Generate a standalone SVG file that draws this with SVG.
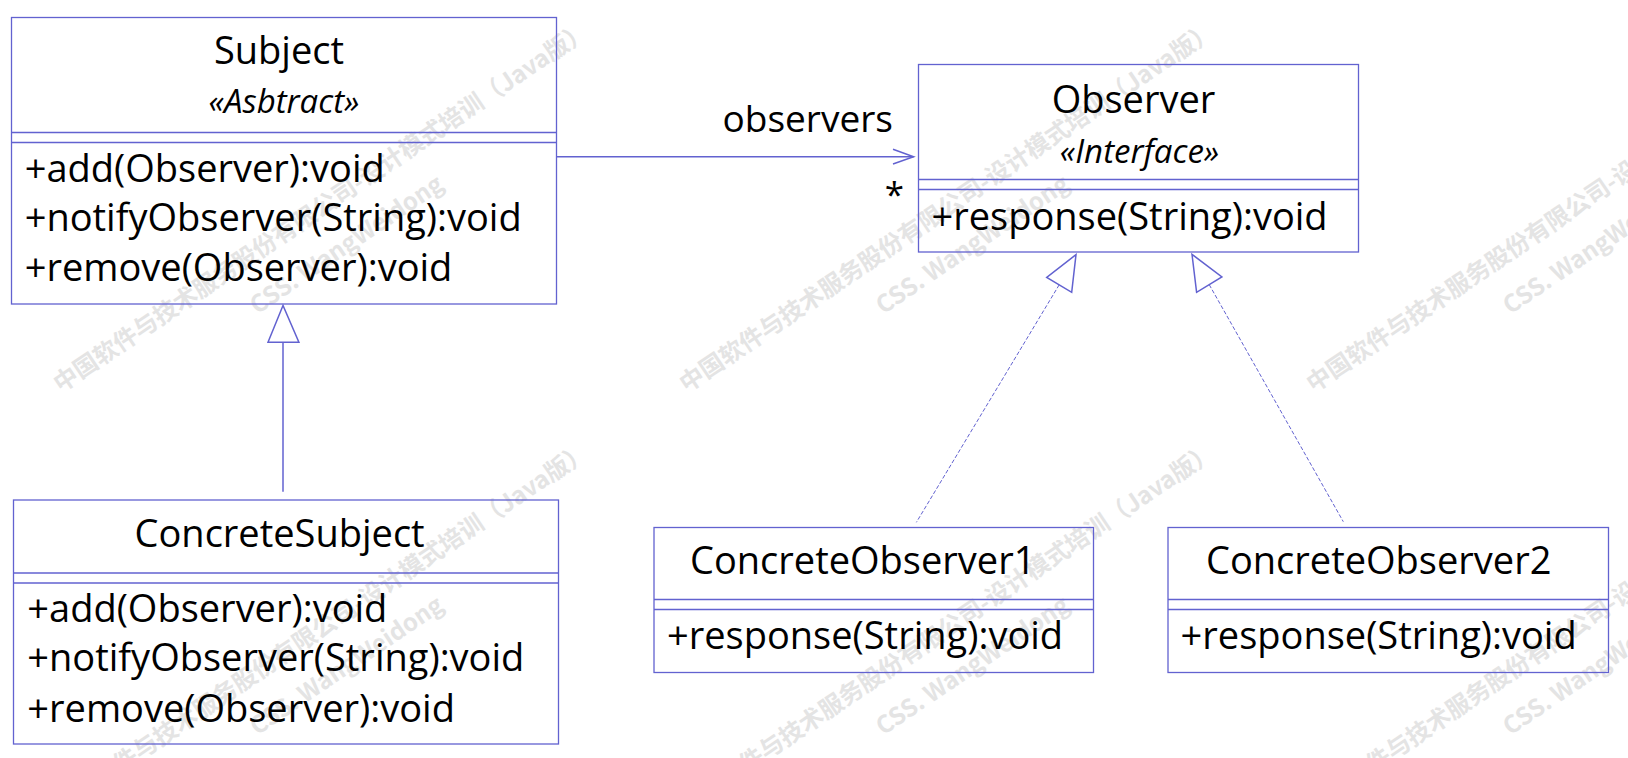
<svg xmlns="http://www.w3.org/2000/svg" width="1628" height="758" viewBox="0 0 1628 758">
<style>
.box{fill:none;stroke:#6262d0;stroke-width:1.3}
.div{stroke:#6262d0;stroke-width:1.3}
.t{font-family:"Open Sans","Noto Sans",sans-serif;font-size:38px;fill:#000}
.c{text-anchor:middle}
.st{font-family:"Open Sans","Noto Sans",sans-serif;font-size:33px;font-style:italic;text-anchor:middle;fill:#000}
.wm{font-family:"Noto Sans CJK SC","Noto Sans",sans-serif;font-weight:bold;font-size:24px;fill:#e4e4e4;text-anchor:middle}
.ln{fill:none;stroke:#6262d0;stroke-width:1.5}
.tri{fill:#fff;stroke:#6262d0;stroke-width:1.5}
.dash{fill:none;stroke:#6262d0;stroke-width:1;stroke-dasharray:4 2}
</style>
<defs>
<g id="wmt">
<text class="wm" x="0" y="0">中国软件与技术服务股份有限公司-设计模式培训（Java版）</text>
<text class="wm" x="0" y="45">CSS. WangWeidong</text>
</g>
</defs>
<g id="watermark">
<use href="#wmt" transform="translate(326 214) rotate(-34)"/>
<use href="#wmt" transform="translate(952 214) rotate(-34)"/>
<use href="#wmt" transform="translate(1579 214) rotate(-34)"/>
<use href="#wmt" transform="translate(326 635) rotate(-34)"/>
<use href="#wmt" transform="translate(952 635) rotate(-34)"/>
<use href="#wmt" transform="translate(1579 635) rotate(-34)"/>
</g>
<g id="subject">
<rect class="box" x="11.5" y="17.5" width="545" height="286.5"/>
<line class="div" x1="11.5" y1="132.5" x2="556.5" y2="132.5"/>
<line class="div" x1="11.5" y1="142.5" x2="556.5" y2="142.5"/>
<text class="t c" x="279" y="64">Subject</text>
<text class="st" x="284" y="113">«Asbtract»</text>
<text class="t" x="24.7" y="181.7">+add(Observer):void</text>
<text class="t" x="24.7" y="231">+notifyObserver(String):void</text>
<text class="t" x="24.7" y="281">+remove(Observer):void</text>
</g>
<g id="observer">
<rect class="box" x="918.5" y="64.5" width="440" height="187.5"/>
<line class="div" x1="918.5" y1="179.5" x2="1358.5" y2="179.5"/>
<line class="div" x1="918.5" y1="189.5" x2="1358.5" y2="189.5"/>
<text class="t c" x="1133.5" y="113.3">Observer</text>
<text class="st" x="1139.5" y="162.7">«Interface»</text>
<text class="t" x="931.5" y="230">+response(String):void</text>
</g>
<g id="concreteSubject">
<rect class="box" x="13.5" y="500" width="545" height="244"/>
<line class="div" x1="13.5" y1="573" x2="558.5" y2="573"/>
<line class="div" x1="13.5" y1="583" x2="558.5" y2="583"/>
<text class="t c" x="279.6" y="547.3">ConcreteSubject</text>
<text class="t" x="27.3" y="621.7">+add(Observer):void</text>
<text class="t" x="27.3" y="671">+notifyObserver(String):void</text>
<text class="t" x="27.3" y="721.7">+remove(Observer):void</text>
</g>
<g id="concreteObserver1">
<rect class="box" x="654" y="527.5" width="439.5" height="145"/>
<line class="div" x1="654" y1="599.5" x2="1093.5" y2="599.5"/>
<line class="div" x1="654" y1="609.5" x2="1093.5" y2="609.5"/>
<text class="t c" x="862.7" y="574.3">ConcreteObserver1</text>
<text class="t" x="667" y="649.3">+response(String):void</text>
</g>
<g id="concreteObserver2">
<rect class="box" x="1168" y="527.5" width="440.5" height="145"/>
<line class="div" x1="1168" y1="599.5" x2="1608.5" y2="599.5"/>
<line class="div" x1="1168" y1="609.5" x2="1608.5" y2="609.5"/>
<text class="t c" x="1378.7" y="574">ConcreteObserver2</text>
<text class="t" x="1180.6" y="649.3">+response(String):void</text>
</g>
<g id="connectors">
<line class="ln" x1="557" y1="156.7" x2="913.6" y2="156.7"/>
<polyline class="ln" points="893,149.3 913.6,156.7 893,164"/>
<text class="t" style="font-size:37px;text-anchor:end" x="893" y="131.7">observers</text>
<text class="t c" style="font-size:35px" x="894.5" y="207">*</text>
<line class="ln" x1="283" y1="342.3" x2="283" y2="491.7"/>
<polygon class="tri" points="283,305.5 268,342.3 298.9,342.3"/>
<line class="dash" x1="1059.2" y1="284.8" x2="916.4" y2="522.3"/>
<polygon class="tri" points="1076,254.7 1046.7,277.3 1071.7,292.3"/>
<line class="dash" x1="1209.2" y1="284.6" x2="1343.3" y2="521.7"/>
<polygon class="tri" points="1192,254.3 1221.9,277 1196.6,292.3"/>
</g>
</svg>
